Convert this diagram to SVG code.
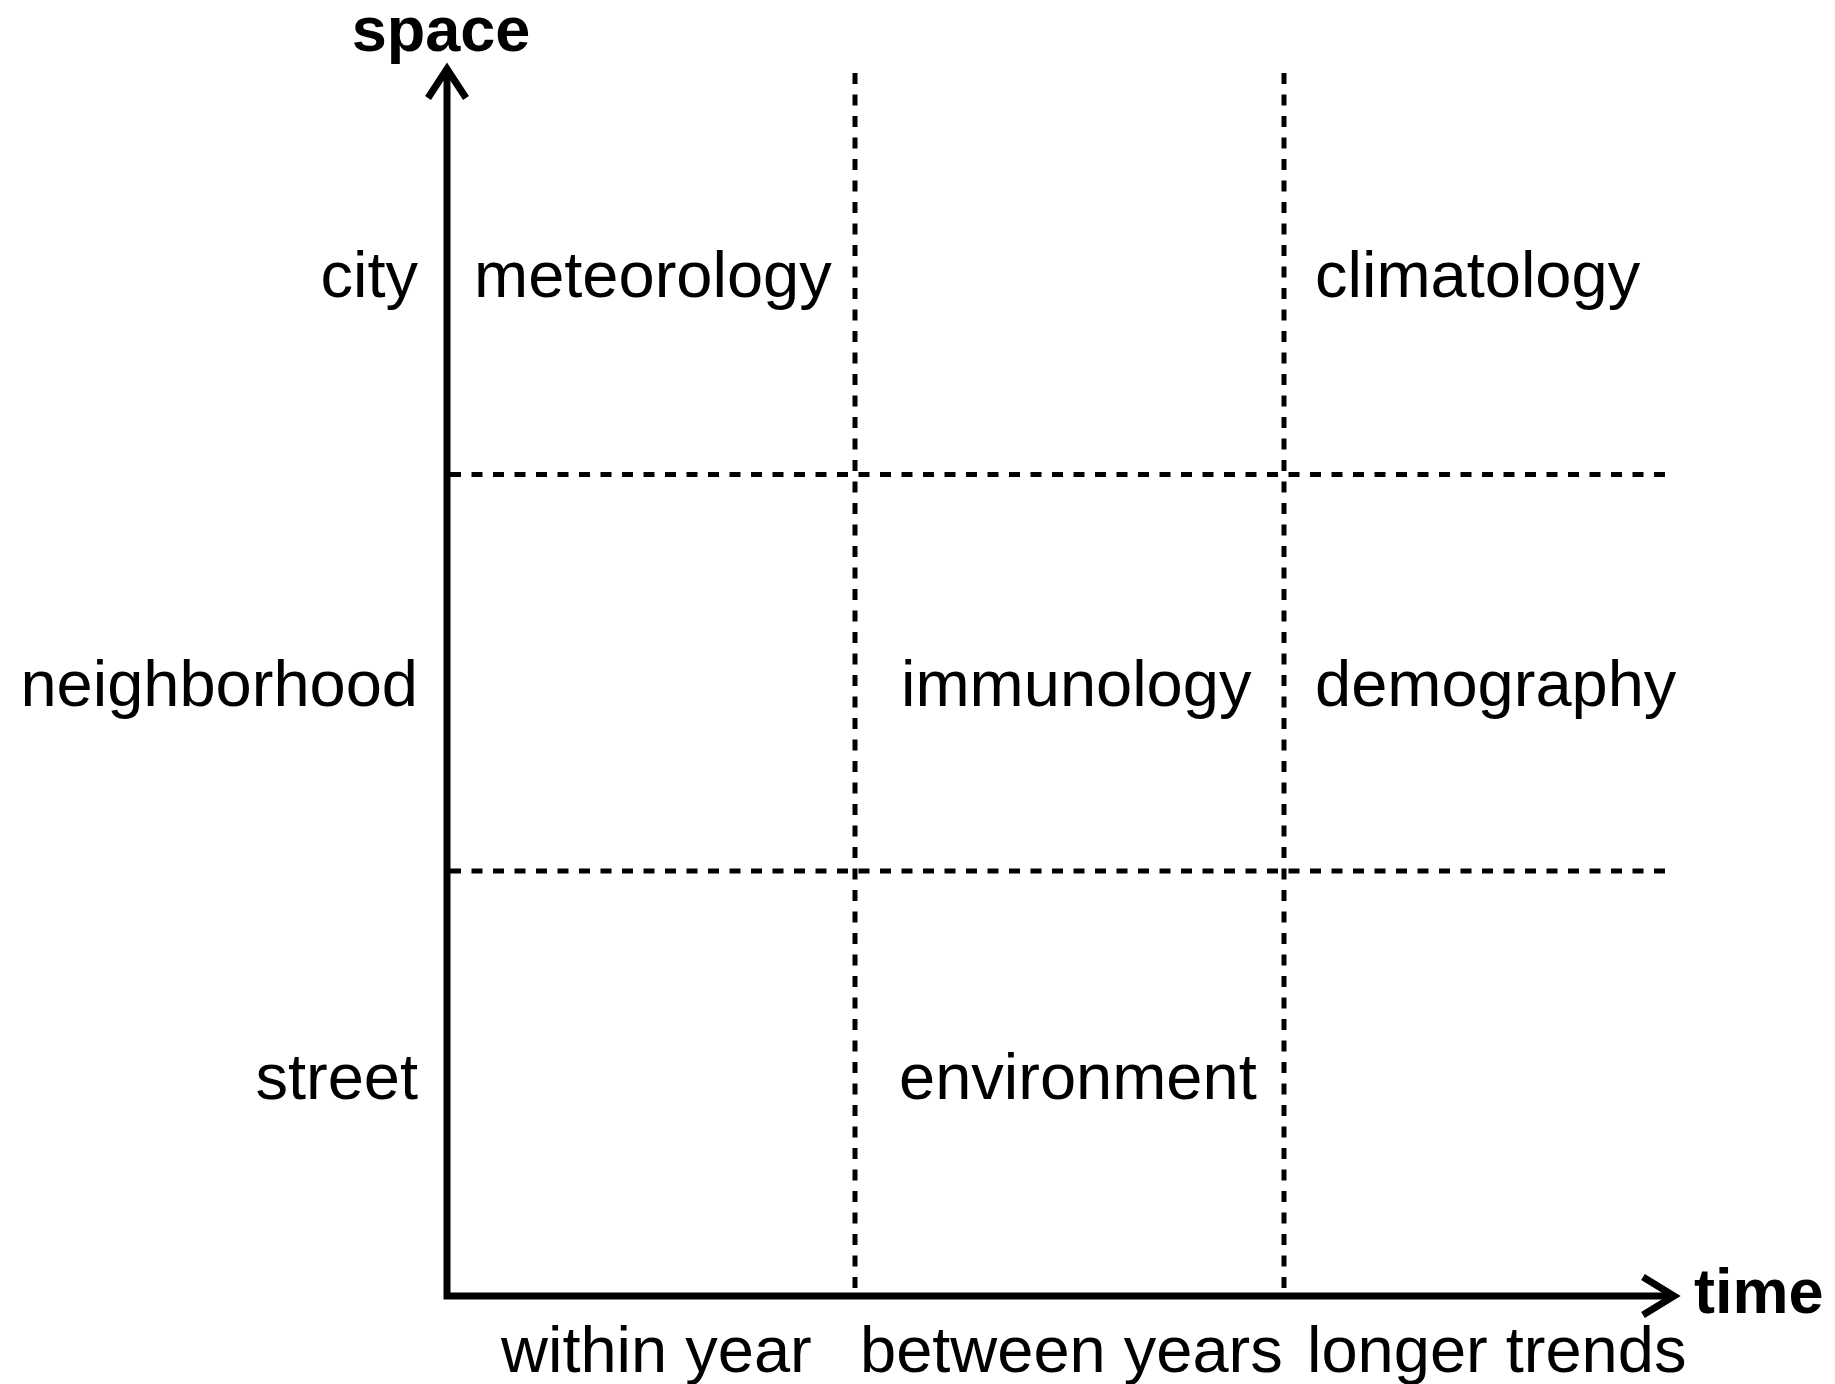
<svg xmlns="http://www.w3.org/2000/svg" width="1835" height="1384" viewBox="0 0 1835 1384">
<style>
.lbl{font-family:"Liberation Sans",Arial,Helvetica,sans-serif;font-size:65px;fill:#000}
.ax{font-family:"Liberation Sans",Arial,Helvetica,sans-serif;font-size:63px;font-weight:bold;fill:#000}
.grid{stroke:#000;stroke-width:5;stroke-dasharray:11 10.5;fill:none}
.axis{stroke:#000;stroke-width:7;fill:none}
</style>
<rect width="1835" height="1384" fill="#fff"/>
<g id="connectors">
<line class="grid" x1="855" y1="73" x2="855" y2="1293"/>
<line class="grid" x1="1284" y1="73" x2="1284" y2="1293"/>
<line class="grid" x1="450" y1="474.5" x2="1672" y2="474.5"/>
<line class="grid" x1="450" y1="871" x2="1672" y2="871"/>
<polyline class="axis" points="447,70 447,1296 1673,1296"/>
<polyline class="axis" points="428,98 447,69 466,98"/>
<polyline class="axis" points="1643,1277 1674,1296 1643,1315"/>
</g>
<g id="axis-labels">
<text id="space" class="ax" x="441" y="51" text-anchor="middle">space</text>
<text id="time" class="ax" x="1694" y="1313">time</text>
</g>
<g id="row-labels">
<text class="lbl" x="418" y="297" text-anchor="end">city</text>
<text class="lbl" x="418" y="706" text-anchor="end">neighborhood</text>
<text class="lbl" x="418" y="1099" text-anchor="end">street</text>
</g>
<g id="column-labels">
<text class="lbl" x="501" y="1372">within year</text>
<text class="lbl" x="860" y="1372">between years</text>
<text class="lbl" x="1307" y="1372">longer trends</text>
</g>
<g id="node-meteorology"><text class="lbl" x="474" y="297">meteorology</text></g>
<g id="node-climatology"><text class="lbl" x="1315" y="297">climatology</text></g>
<g id="node-immunology"><text class="lbl" x="901" y="706">immunology</text></g>
<g id="node-demography"><text class="lbl" x="1315" y="706">demography</text></g>
<g id="node-environment"><text class="lbl" x="899" y="1099">environment</text></g>
</svg>
